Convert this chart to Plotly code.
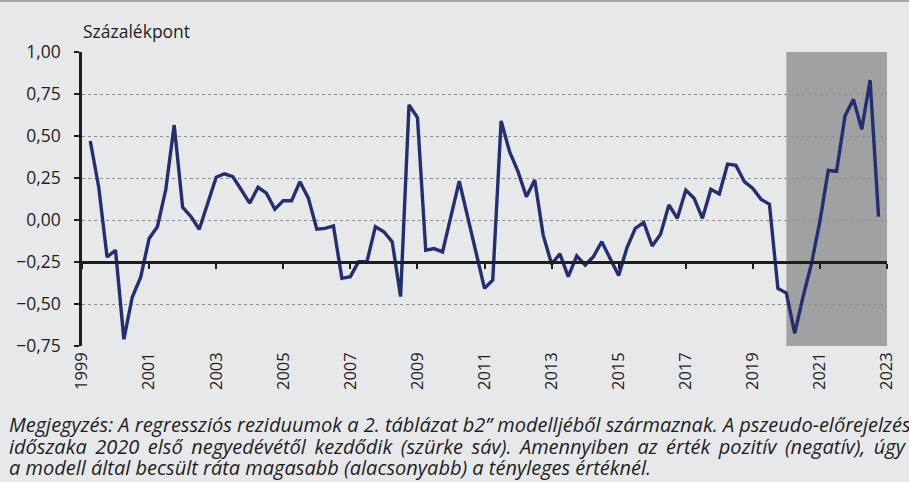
import pandas as pd
import plotly.graph_objects as go

# negyedéves reziduumok, 1999 Q2 - 2022 Q4 (százalékpont)
start_quarter = "1999-04-01"
residuals = [
    0.47, 0.20, -0.22, -0.18, -0.71, -0.46, -0.34, -0.11, -0.04, 0.18,
    0.565, 0.075, 0.02, -0.055, 0.10, 0.255, 0.275, 0.258, 0.18, 0.10,
    0.195, 0.16, 0.064, 0.115, 0.115, 0.228, 0.13, -0.055, -0.05, -0.035,
    -0.347, -0.337, -0.248, -0.248, -0.04, -0.07, -0.13, -0.456, 0.685, 0.61,
    -0.18, -0.17, -0.19, 0.02, 0.232, 0.02, -0.20, -0.407, -0.357, 0.59,
    0.407, 0.288, 0.139, 0.238, -0.09, -0.262, -0.202, -0.337, -0.214, -0.268,
    -0.218, -0.129, -0.23, -0.33, -0.165, -0.05, -0.015, -0.155, -0.085, 0.09,
    0.01, 0.178, 0.13, 0.01, 0.183, 0.155, 0.333, 0.325, 0.228, 0.188,
    0.123, 0.093, -0.407, -0.435, -0.675, -0.456, -0.26, -0.005, 0.295, 0.29,
    0.62, 0.718, 0.54, 0.833, 0.02,
]
quarters = pd.date_range(start_quarter, periods=len(residuals), freq="QS")

# pszeudo-előrejelzés időszaka (szürke sáv)
forecast_start = "2020-01-01"
forecast_end = "2023-01-01"

x_range = ["1999-01-01", "2023-01-01"]
y_range = [-0.75, 1.0]
y_ticks = [-0.75, -0.5, -0.25, 0.0, 0.25, 0.5, 0.75, 1.0]

caption = [
    "Megjegyzés: A regressziós reziduumok a 2. táblázat b2” modelljéből származnak. A pszeudo-előrejelzés",
    "időszaka 2020 első negyedévétől kezdődik (szürke sáv). Amennyiben az érték pozitív (negatív), úgy",
    "a modell által becsült ráta magasabb (alacsonyabb) a tényleges értéknél.",
]
# a sorkizárt 2. sor szélesebb szóközei
caption_gap = [" ", " \u2009", " "]

bg = "#E7E8EA"
font = "'Open Sans', 'Noto Sans', sans-serif"

fig = go.Figure()

# szürke sáv
fig.add_shape(type="rect", xref="x", yref="y",
              x0=forecast_start, x1=forecast_end, y0=y_range[0], y1=y_range[1],
              fillcolor="#A0A1A3", line=dict(width=0), layer="below")

# felső szegély
fig.add_shape(type="line", xref="paper", yref="paper",
              x0=-0.2, x1=1.1, y0=1 + 51 / 294, y1=1 + 51 / 294,
              line=dict(color="#A6A7A9", width=2))

fig.add_trace(go.Scatter(
    x=quarters, y=residuals, mode="lines",
    line=dict(color="#232F6E", width=3.4),
    hoverinfo="skip", showlegend=False,
))

# a -0,25-ös vízszintes tengely (x2) aktiválása
fig.add_trace(go.Scatter(x=[quarters[0]], y=[None], xaxis="x2",
                         showlegend=False, hoverinfo="skip"))

fig.update_layout(
    width=909, height=482,
    margin=dict(l=82, r=17, t=52, b=136),
    paper_bgcolor=bg, plot_bgcolor=bg,
    separators=", ",
    font=dict(family=font, size=17, color="#1E1E1E"),
    xaxis=dict(
        type="date", range=x_range,
        tick0="1999-01-01", dtick="M24", tickformat="%Y",
        tickangle=-90, ticks="", showline=False, showgrid=False,
        zeroline=False, ticklabelstandoff=2,
        tickfont=dict(size=16.5),
    ),
    xaxis2=dict(
        type="date", range=x_range, overlaying="x", anchor="free",
        position=(-0.25 - y_range[0]) / (y_range[1] - y_range[0]),
        tick0="1999-01-01", dtick="M24", showticklabels=False,
        ticks="outside", ticklen=5, tickwidth=2, tickcolor="#1E1E1E",
        showline=True, linecolor="#1E1E1E", linewidth=2.5,
        showgrid=False, zeroline=False,
    ),
    yaxis=dict(
        range=y_range, tickvals=y_ticks, tickformat=".2f",
        showline=True, linecolor="#1E1E1E", linewidth=2.5,
        ticks="outside", ticklen=5, tickwidth=2, tickcolor="#1E1E1E",
        showgrid=True, gridcolor="#8E8F91", gridwidth=1, griddash="dot",
        zeroline=False, ticklabelstandoff=10,
        tickfont=dict(size=17.5),
    ),
)

fig.add_annotation(text="Százalékpont", xref="paper", yref="paper",
                   x=-0.001, y=1 + 21 / 294, xanchor="left", yanchor="middle",
                   showarrow=False, font=dict(size=17.5))

caption_y = [424, 446, 467]
for line, gap, ypx in zip(caption, caption_gap, caption_y):
    fig.add_annotation(text="<i>" + gap.join(line.split(" ")) + "</i>",
                       xref="paper", yref="paper",
                       x=(7 - 82) / 810, y=(346 - ypx) / 294,
                       xanchor="left", yanchor="middle", showarrow=False,
                       font=dict(size=20))

fig.write_html("out.html", config={"displayModeBar": False},
               post_script="document.body.style.margin='0';"
                           "document.body.style.background='#E7E8EA';")
